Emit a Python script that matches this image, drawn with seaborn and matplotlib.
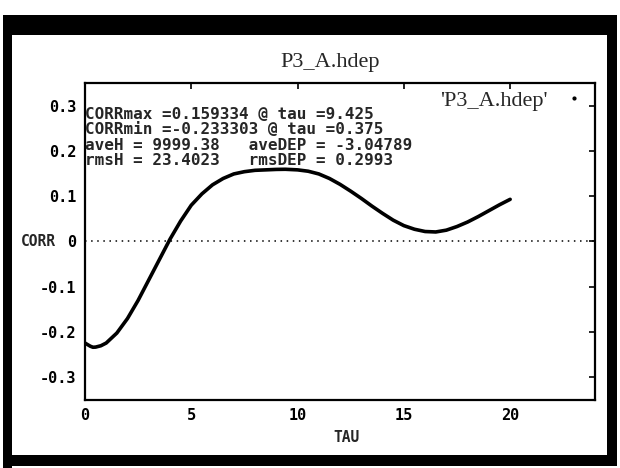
import pandas as pd
import matplotlib.pyplot as plt
import seaborn as sns
from matplotlib.patches import Rectangle
from matplotlib.lines import Line2D

# correlation vs lag
tau = [0.0, 0.25, 0.375, 0.5, 0.75, 1.0, 1.5, 2.0, 2.5, 3.0, 3.5, 4.0, 4.5,
       5.0, 5.5, 6.0, 6.5, 7.0, 7.5, 8.0, 8.5, 9.0, 9.425, 10.0, 10.5,
       11.0, 11.5, 12.0, 12.5, 13.0, 13.5, 14.0, 14.5,
       15.0, 15.5, 16.0, 16.5, 17.0, 17.5, 18.0, 18.5, 19.0, 19.5, 20.0]
corr = [-0.224, -0.231, -0.2333, -0.233, -0.230, -0.224, -0.202, -0.170, -0.130, -0.085,
        -0.040, 0.005, 0.045,
        0.080, 0.105, 0.125, 0.139, 0.149, 0.154, 0.157, 0.158, 0.159, 0.1593, 0.158, 0.155,
        0.149, 0.139, 0.126, 0.111, 0.095, 0.078, 0.062, 0.047,
        0.035, 0.027, 0.022, 0.021, 0.025, 0.033, 0.043, 0.055, 0.068, 0.081, 0.093]

xticks = [0, 5, 10, 15, 20]
yticks = [0.3, 0.2, 0.1, 0.0, -0.1, -0.2, -0.3]
ytick_labels = ["0.3", "0.2", "0.1", "0", "-0.1", "-0.2", "-0.3"]

stats_lines = [
    "CORRmax =0.159334 @ tau =9.425",
    "CORRmin =-0.233303 @ tau =0.375",
    "aveH = 9999.38   aveDEP = -3.04789",
    "rmsH = 23.4023   rmsDEP = 0.2993",
]

df = pd.DataFrame({"TAU": tau, "CORR": corr})

sns.set_theme(style="white")
plt.rcParams['font.family'] = ['DejaVu Sans Mono', 'DejaVu Sans']

fig = plt.figure(figsize=(6.2, 4.68), dpi=100)
ax = fig.add_axes([0.137, 0.145, 0.823, 0.678])

sns.lineplot(data=df, x="TAU", y="CORR", ax=ax, color="black", lw=2.6)
ax.axhline(0, color="black", ls=(0, (1, 3)), lw=1.1)

ax.set_xlim(0, 24)
ax.set_ylim(-0.35, 0.35)
ax.set_xticks(xticks)
ax.set_xticklabels([str(t) for t in xticks], fontweight="bold")
ax.set_yticks(yticks)
ax.set_yticklabels(ytick_labels, fontweight="bold")
ax.tick_params(direction="in", length=4, width=1.2, top=True, right=True,
               labelsize=11, colors="black", pad=6)
for s in ax.spines.values():
    s.set_color("black")
    s.set_linewidth(1.6)

ax.set_xlabel("TAU", fontweight="bold", fontsize=10.5)
ax.xaxis.set_label_coords(0.512, -0.095)
ax.set_ylabel("CORR", fontweight="bold", fontsize=10.5, rotation=0, va="center")
ax.yaxis.set_label_coords(-0.092, 0.5)

ax.set_title("P3_A.hdep", family="Liberation Serif", fontsize=16, x=0.48, y=1.05, pad=0)

for i, line in enumerate(stats_lines):
    ax.text(0.0, 0.899 - i * 0.0475, line, transform=ax.transAxes,
            fontsize=11.5, fontweight="bold", va="center", ha="left")

handle = Line2D([], [], color="black", marker=".", ls="none", markersize=4)
ax.legend(handles=[handle], labels=["'P3_A.hdep'"], loc="upper right", frameon=False,
          markerfirst=False, handlelength=1.2, handletextpad=0.6, borderaxespad=0.25,
          borderpad=0.1, prop={"family": "Liberation Serif", "size": 16})

# window frame of the screenshot
W, H = 620, 468
frame = [(3, 433, 614, 20), (3, 0, 9, 453), (607, 13, 10, 440), (3, 2, 614, 11)]
for x0, y0, w, h in frame:
    fig.add_artist(Rectangle((x0 / W, y0 / H), w / W, h / H, transform=fig.transFigure,
                             color="black", lw=0))

fig.savefig("out.png", dpi=100)
